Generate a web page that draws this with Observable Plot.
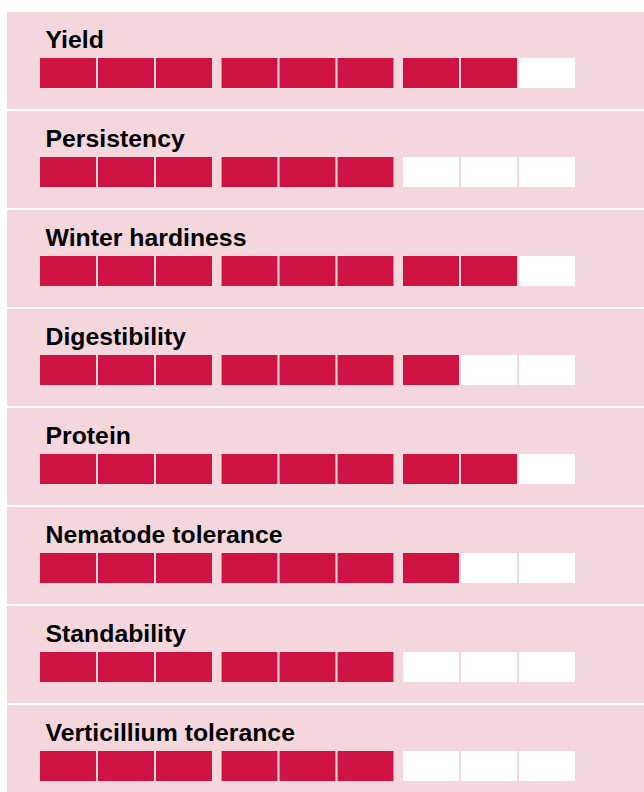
<!DOCTYPE html>
<html>
<head>
<meta charset="utf-8">
<script src="https://cdn.jsdelivr.net/npm/d3@7"></script>
<script src="https://cdn.jsdelivr.net/npm/@observablehq/plot@0.6"></script>
<style>
  html, body { margin: 0; padding: 0; background: #fff; }
  #chart svg { display: block; }
</style>
</head>
<body>
<div id="chart"></div>
<script>
// ---- data ----
const traits = [
  "Yield",
  "Persistency",
  "Winter hardiness",
  "Digestibility",
  "Protein",
  "Nematode tolerance",
  "Standability",
  "Verticillium tolerance"
];
const ratings = [8, 6, 8, 7, 8, 7, 6, 6];
const maxScore = 9;
const groupSize = 3;

// ---- layout constants (styling) ----
const GROUP_GAP = 7.5 / 58;   // extra gap between groups of three, in cell units
const CELL = 56 / 58;         // cell width in cell units
const PINK = "#F3D7DD";
const RED = "#CE1242";

const cells = traits.flatMap((t, k) =>
  d3.range(maxScore).map(i => {
    const start = i + Math.floor(i / groupSize) * GROUP_GAP;
    return {trait: t, index: i, filled: i < ratings[k], start, end: start + CELL};
  })
);

const plot = Plot.plot({
  width: 644,
  height: 792,
  marginTop: 0,
  marginBottom: 0,
  marginLeft: 7,
  marginRight: 0,
  style: {background: "white"},
  x: {domain: [0, (maxScore - 1) + 2 * GROUP_GAP + CELL], range: [40, 575], axis: null},
  y: {type: "band", domain: traits, range: [12, 802], paddingInner: 2 / 99, paddingOuter: 0, round: false, axis: null},
  marks: [
    Plot.cell(traits, {y: d => d, fill: PINK}),
    Plot.barX(cells, {x1: "start", x2: "end", y: "trait", insetTop: 46, insetBottom: 21, fill: "#FFFFFF"}),
    Plot.barX(cells, {filter: d => d.filled, x1: "start", x2: "end", y: "trait", insetTop: 46, insetBottom: 21, fill: RED}),
    Plot.text(traits, {
      y: d => d,
      text: d => d,
      frameAnchor: "left",
      textAnchor: "start",
      lineAnchor: "bottom",
      dx: 38,
      dy: -13,
      fontSize: 24.8,
      fontWeight: "bold",
      fontFamily: "'Liberation Sans', Arial, sans-serif",
      fill: "#000"
    })
  ]
});
document.getElementById("chart").append(plot);
</script>
</body>
</html>
